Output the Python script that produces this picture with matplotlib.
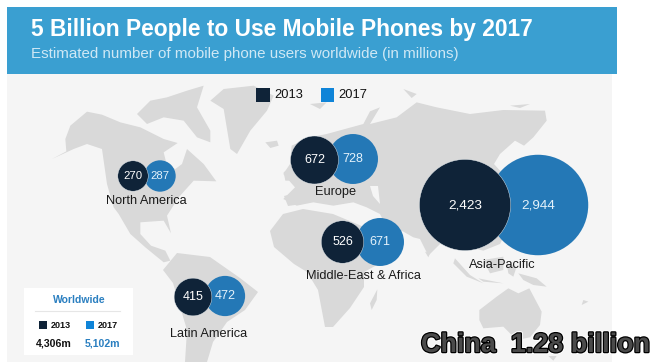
"""
mobile phone users bubble chart on top of a rough world map
all layout is in pixels of the 660x362 picture
"""
import matplotlib
matplotlib.use('Agg')
import matplotlib.patheffects as pe
import matplotlib.pyplot as plt
from matplotlib.patches import Circle, Polygon, Rectangle

plt.rcParams['font.family'] = ['Liberation Sans', 'DejaVu Sans']

# data
regions = ['North America', 'Europe', 'Middle-East & Africa', 'Latin America', 'Asia-Pacific']
users_2013 = [270, 672, 526, 415, 2423]
users_2017 = [287, 728, 671, 472, 2944]
world_2013 = '4,306m'
world_2017 = '5,102m'

# layout, same order as regions
centers_2013 = [(133, 176), (314.5, 160), (342.5, 242), (193, 297), (465, 205)]
centers_2017 = [(160, 176), (353, 159), (380, 242), (225, 296), (538, 205)]
label_pos = [(146, 201), (336, 192), (363, 276), (209, 334), (502, 265)]
number_sizes = [8.2, 9, 9, 9, 9.7]
RADIUS_SCALE = 0.926  # px per sqrt(million users)

COLOR_2013 = '#0f2338'
COLOR_2017 = '#2478b6'
LEGEND_2017 = '#0f84d8'
HEADER = '#3a9fd1'
PANEL = '#f5f5f5'
LAND = '#d9d9d9'


def from_crop(points, x0, y0):
    # outlines were traced on 3x crops of the picture
    return [(x0 + x / 3, y0 + y / 3) for x, y in points]


# rough continent outlines, only background decoration
land_west = [
    # north america
    [(135, 255), (178, 232), (175, 195), (190, 155), (240, 113), (285, 122), (340, 145), (400, 160), (440, 180),
     (470, 195), (512, 207), (470, 235), (480, 275), (505, 285), (525, 270), (540, 225), (590, 270), (628, 322),
     (560, 320), (515, 370), (480, 425), (492, 478), (470, 440), (400, 445), (400, 480), (432, 515), (475, 530),
     (490, 560), (470, 565), (415, 520), (370, 480), (335, 420), (320, 400), (300, 330), (290, 260), (285, 225),
     (240, 210), (200, 225)],
    # arctic islands
    [(390, 120), (430, 80), (480, 70), (540, 50), (590, 35), (570, 100), (610, 170), (610, 205), (570, 190),
     (530, 140), (470, 130), (420, 150)],
    # greenland
    [(610, 80), (650, 45), (740, 35), (800, 65), (780, 110), (730, 170), (690, 240), (670, 225), (660, 165), (650, 105)],
    # iceland
    [(775, 205), (810, 200), (815, 215), (790, 222)],
    # uk
    [(830, 295), (850, 280), (860, 320), (835, 320)],
]
land_east = [
    # eurasia
    [(40, 300), (60, 270), (65, 215), (120, 190), (170, 180), (280, 150), (300, 112), (330, 100), (300, 150),
     (380, 130), (440, 85), (500, 100), (600, 120), (700, 108), (825, 110), (830, 140), (790, 190), (762, 215),
     (735, 200), (690, 240), (672, 270), (690, 290), (720, 330), (720, 450), (690, 510), (640, 530), (520, 500),
     (475, 545), (450, 495), (430, 490), (395, 470), (370, 500), (330, 420), (290, 400), (250, 385), (190, 395),
     (130, 385), (80, 395), (40, 375), (75, 340)],
    # svalbard and siberian islands
    [(120, 90), (170, 85), (150, 105)],
    [(400, 45), (440, 60), (425, 72)],
    [(720, 95), (780, 90), (750, 102)],
]
land_south = [
    # madagascar
    [(300, 160), (322, 118), (320, 150), (305, 180)],
    # australia
    [(628, 180), (680, 140), (715, 115), (745, 130), (778, 115), (815, 185), (810, 225), (780, 262), (740, 270),
     (700, 230), (640, 235), (628, 210)],
    # tasmania, new zealand
    [(835, 318), (860, 318), (850, 332)],
    [(940, 150), (955, 155), (935, 165)],
    # sumatra, java, borneo, sulawesi, new guinea, sri lanka
    [(555, 25), (600, 75), (640, 100), (590, 80), (550, 40)],
    [(625, 85), (700, 100), (640, 95)],
    [(640, 30), (700, 20), (700, 60), (660, 70)],
    [(710, 40), (740, 50), (730, 80), (715, 70)],
    [(745, 70), (800, 85), (830, 110), (790, 105), (760, 90)],
    [(465, 5), (480, 10), (475, 22)],
]
africa = [(270, 231), (283, 214), (303, 209), (333, 214), (357, 224), (375, 232), (403, 238), (390, 258), (364, 272),
          (364, 287), (350, 308), (333, 327), (325, 327), (318, 290), (307, 272), (294, 264), (274, 247)]
south_america = [(163, 270), (177, 253), (210, 257), (240, 278), (258, 292), (245, 310), (227, 322), (213, 342),
                 (207, 362), (185, 362), (187, 330), (173, 283)]
spain = [(284, 196), (300, 192), (302, 204), (288, 206)]
black_sea = [(370, 186), (378, 186), (380, 204), (373, 196)]

land_shapes = [from_crop(s, 7, 74) for s in land_west] + [from_crop(s, 270, 74) for s in land_east]
land_shapes += [from_crop(s, 270, 250) for s in land_south] + [africa, south_america, spain]

fig = plt.figure(figsize=(6.6, 3.62), dpi=100)
ax = fig.add_axes([0, 0, 1, 1])
ax.set_xlim(0, 660)
ax.set_ylim(362, 0)
ax.axis('off')

# background panel and header
ax.add_patch(Rectangle((7, 74), 605, 288, color=PANEL, lw=0, zorder=0))
for shape in land_shapes:
    ax.add_patch(Polygon(shape, closed=True, color=LAND, lw=0, zorder=1))
ax.add_patch(Polygon(black_sea, closed=True, color=PANEL, lw=0, zorder=1))
ax.add_patch(Rectangle((7, 7), 610, 67, color=HEADER, lw=0, zorder=2))

ax.text(31, 36, '5 Billion People to Use Mobile Phones by 2017', color='white',
        fontsize=16.4, fontweight='bold', va='baseline', zorder=3)
ax.text(31, 58, 'Estimated number of mobile phone users worldwide (in millions)',
        color='#cfe8f5', fontsize=10.9, va='baseline', zorder=3)

# top legend
ax.add_patch(Rectangle((256, 88), 14, 14, color=COLOR_2013, lw=0, zorder=3))
ax.text(274, 95.5, '2013', fontsize=9.3, va='center', color='#111111', zorder=3)
ax.add_patch(Rectangle((321, 88), 13, 14, color=LEGEND_2017, lw=0, zorder=3))
ax.text(338, 95.5, '2017', fontsize=9.3, va='center', color='#111111', zorder=3)

# bubbles, area follows the value, 2017 goes behind 2013
for i, region in enumerate(regions):
    r_2013 = RADIUS_SCALE * users_2013[i] ** 0.5
    r_2017 = RADIUS_SCALE * users_2017[i] ** 0.5
    ax.add_patch(Circle(centers_2017[i], r_2017, facecolor=COLOR_2017, edgecolor='none', zorder=4))
    ax.add_patch(Circle(centers_2013[i], r_2013, facecolor=COLOR_2013, edgecolor='#e8eef2', lw=0.3, zorder=5))
    ax.text(centers_2013[i][0], centers_2013[i][1], f'{users_2013[i]:,}', color='white',
            fontsize=number_sizes[i], ha='center', va='center', zorder=6)
    ax.text(centers_2017[i][0], centers_2017[i][1], f'{users_2017[i]:,}', color='#e4f2fb',
            fontsize=number_sizes[i], ha='center', va='center', zorder=6)
    ax.text(label_pos[i][0], label_pos[i][1], region, color='#1a1a1a', fontsize=9.2,
            ha='center', va='center', zorder=6)

# worldwide box
ax.add_patch(Rectangle((24, 288), 109, 67, color='white', lw=0, zorder=3))
ax.text(79, 300, 'Worldwide', color='#2a7fc0', fontsize=7.5, fontweight='bold', ha='center', va='center', zorder=4)
ax.plot([35, 120], [311, 311], color='#e6e6e6', lw=0.8, zorder=4)
ax.add_patch(Rectangle((39, 321), 8, 8, color=COLOR_2013, lw=0, zorder=4))
ax.text(51, 325, '2013', color='#111111', fontsize=6.5, fontweight='bold', va='center', zorder=4)
ax.add_patch(Rectangle((86, 321), 8, 8, color=LEGEND_2017, lw=0, zorder=4))
ax.text(98, 325, '2017', color='#111111', fontsize=6.5, fontweight='bold', va='center', zorder=4)
ax.text(36, 343, world_2013, color='#111111', fontsize=7.6, fontweight='bold', va='center', zorder=4)
ax.text(85, 343, world_2017, color='#2a7fc0', fontsize=7.6, fontweight='bold', va='center', zorder=4)

# caption burned into the video frame
ax.text(421, 345, 'China  1.28 billion', color='#4a4a4a', fontsize=19.4, fontweight='bold', va='center', zorder=7,
        path_effects=[pe.Stroke(linewidth=3.2, foreground='white'),
                      pe.Stroke(linewidth=1.8, foreground='black'),
                      pe.Normal()])

fig.savefig('out.png', dpi=100)
